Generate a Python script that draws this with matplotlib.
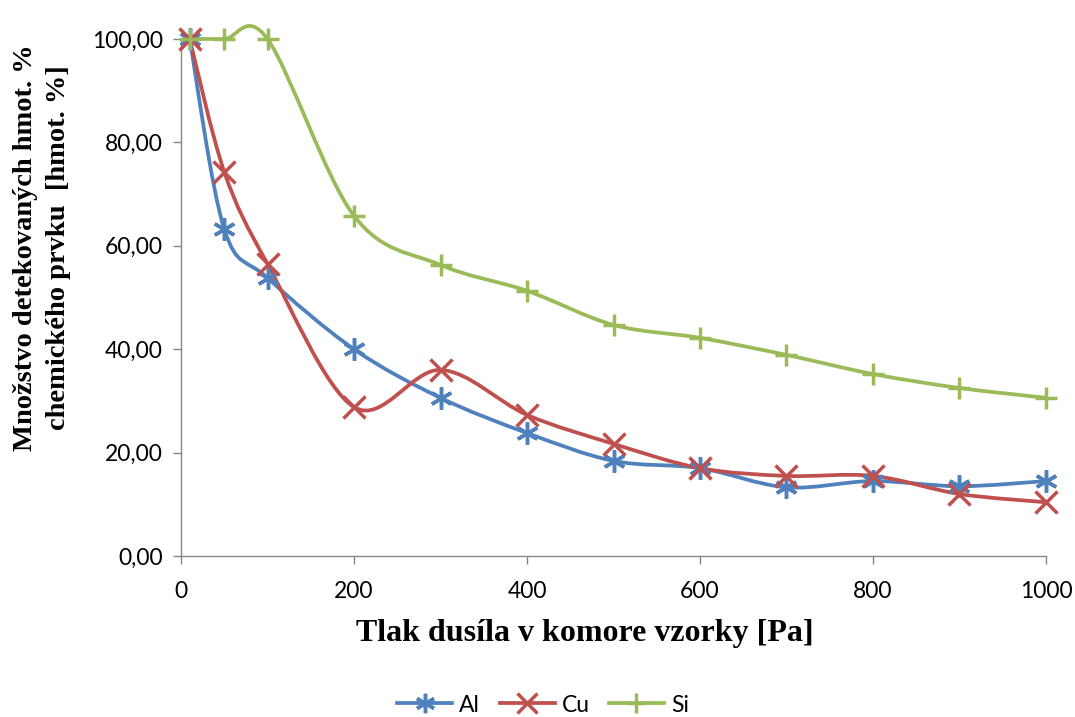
import matplotlib.pyplot as plt
from matplotlib.path import Path
from matplotlib.patches import PathPatch
from matplotlib.lines import Line2D

# ------------------------------------------------------------
# data
# ------------------------------------------------------------
pressure = [10, 50, 100, 200, 300, 400, 500, 600, 700, 800, 900, 1000]

al = [100.0, 63.2, 53.8, 40.0, 30.6, 23.8, 18.4, 17.0, 13.3, 14.5, 13.5, 14.5]
cu = [100.0, 74.3, 56.5, 28.8, 36.0, 27.3, 21.7, 17.0, 15.5, 15.5, 12.0, 10.4]
si = [100.0, 100.0, 100.0, 65.8, 56.3, 51.3, 44.7, 42.2, 38.9, 35.2, 32.5, 30.6]

series = [
    ("Al", al, "#4F81BD", (6, 2, 0)),
    ("Cu", cu, "#C0504D", "x"),
    ("Si", si, "#9BBB59", "+"),
]

x_ticks = [0, 200, 400, 600, 800, 1000]
y_ticks = [0, 20, 40, 60, 80, 100]


def smooth_path(xs, ys):
    # excel-like smoothed line: cubic bezier through every point
    n = len(xs)
    verts = [(xs[0], ys[0])]
    codes = [Path.MOVETO]
    for i in range(n - 1):
        x0, y0 = xs[max(i - 1, 0)], ys[max(i - 1, 0)]
        x1, y1 = xs[i], ys[i]
        x2, y2 = xs[i + 1], ys[i + 1]
        x3, y3 = xs[min(i + 2, n - 1)], ys[min(i + 2, n - 1)]
        c1 = (x1 + (x2 - x0) / 6, y1 + (y2 - y0) / 6)
        c2 = (x2 - (x3 - x1) / 6, y2 - (y3 - y1) / 6)
        verts += [c1, c2, (x2, y2)]
        codes += [Path.CURVE4] * 3
    return Path(verts, codes)


fig = plt.figure(figsize=(10.75, 7.17), dpi=100)
ax = fig.add_axes([0.1684, 0.2245, 0.8046, 0.7211])

handles = []
for name, vals, color, marker in series:
    patch = PathPatch(smooth_path(pressure, vals), facecolor="none",
                      edgecolor=color, linewidth=2.7, clip_on=False,
                      capstyle="round", joinstyle="round", zorder=3)
    ax.add_patch(patch)
    ax.plot(pressure, vals, linestyle="none", marker=marker, markersize=16,
            markeredgewidth=2.5, color=color, clip_on=False, zorder=4)
    handles.append(Line2D([0], [0], color=color, linewidth=2.7, marker=marker,
                          markersize=14, markeredgewidth=2.5))

ax.set_xlim(0, 1000)
ax.set_ylim(0, 100)
ax.set_xticks(x_ticks)
ax.set_yticks(y_ticks)
ax.set_yticklabels([f"{v:.2f}".replace(".", ",") for v in y_ticks])

for side in ["top", "right"]:
    ax.spines[side].set_visible(False)
for side in ["left", "bottom"]:
    ax.spines[side].set_color("#868686")
    ax.spines[side].set_linewidth(1.0)

ax.tick_params(axis="both", direction="out", length=6, width=1.0,
               color="#868686", labelsize=16.5)
ax.tick_params(axis="x", pad=12)
ax.tick_params(axis="y", pad=7)
for lbl in ax.get_xticklabels() + ax.get_yticklabels():
    lbl.set_fontfamily("Lato")

ax.set_xlabel("Tlak dusíla v komore vzorky [Pa]", fontsize=23,
              fontweight="bold", family="Liberation Serif")
ax.xaxis.label.set_va("center")
ax.xaxis.set_label_coords((585 - 181) / 865, (556 - 633) / 517)

ax.set_ylabel("Množstvo detekovaných hmot. %\nchemického prvku  [hmot. %]",
              fontsize=20.5, fontweight="bold", family="Liberation Serif",
              linespacing=1.4)
ax.yaxis.label.set_va("center")
ax.yaxis.set_label_coords((42 - 181) / 865, (556 - 248) / 517)

fig.legend(handles, ["Al", "Cu", "Si"], loc="center",
           bbox_to_anchor=((398 + 688) / 2 / 1075, 1 - 705 / 717),
           ncol=3, frameon=False, prop={"family": "Lato", "size": 16.5},
           handlelength=2.4, columnspacing=0.85, handletextpad=0.3,
           borderpad=0.0)

fig.savefig("out.png", dpi=100)
